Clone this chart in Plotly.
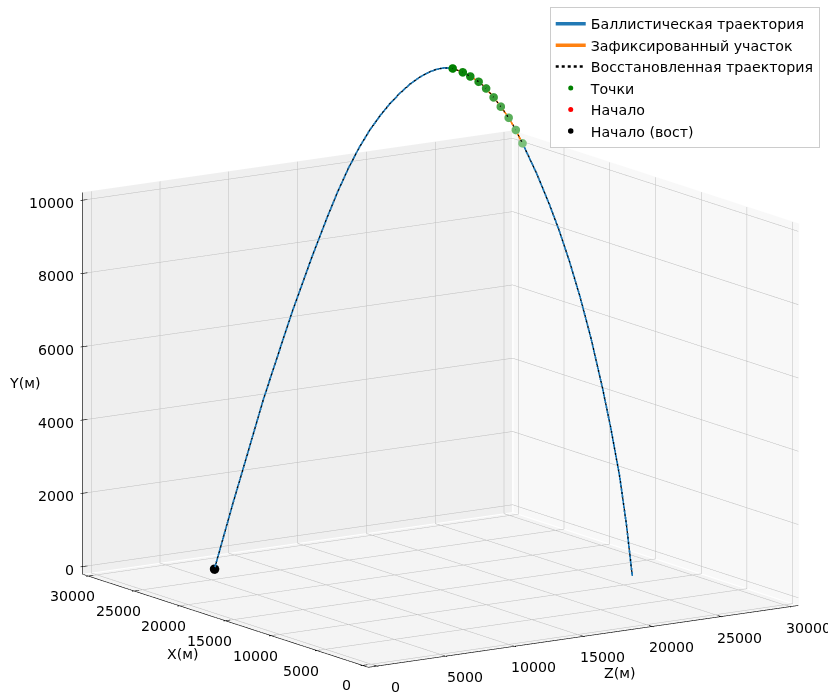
import math
import plotly.graph_objects as go

# ---------------- data (metres) ----------------
# ballistic trajectory: X (horizontal, left axis), Z (horizontal, right axis), Y (height)
traj_X = [25650, 24950, 24600, 23830, 23310, 22750, 22000, 21440, 21050, 20660,
          20250, 19850, 19470, 19100, 18720, 18350, 17980, 17600, 17340, 17070,
          16760, 16380, 16100, 15790, 15510, 15230, 14960, 14670, 14400, 14150,
          13620, 13140, 12760, 12390, 12000, 11590, 11160, 10850, 10530, 10270,
          10050]
traj_Z = [5650, 6550, 6990, 7990, 8650, 9370, 10330, 11050, 11550, 12050,
          12570, 13090, 13570, 14050, 14530, 15010, 15490, 15970, 16310, 16650,
          17050, 17530, 17890, 18290, 18650, 19010, 19350, 19730, 20070, 20390,
          21070, 21690, 22170, 22650, 23150, 23670, 24230, 24630, 25030, 25370,
          25650]
traj_Y = [0, 1830, 2690, 4640, 5800, 7050, 8580, 9650, 10350, 10980,
          11560, 12050, 12440, 12780, 13070, 13320, 13520, 13670, 13740, 13780,
          13770, 13670, 13560, 13420, 13240, 13000, 12750, 12450, 12120, 11760,
          10940, 10090, 9360, 8540, 7590, 6470, 5100, 4000, 2760, 1400,
          0]

# reconstructed trajectory (coincides with the ballistic one)
rec_X = list(traj_X)
rec_Z = list(traj_Z)
rec_Y = list(traj_Y)

# recorded segment / measured points
pts_X = [16760, 16380, 16100, 15790, 15510, 15230, 14960, 14670, 14400, 14150]
pts_Z = [17050, 17530, 17890, 18290, 18650, 19010, 19350, 19730, 20070, 20390]
pts_Y = [13770, 13670, 13560, 13420, 13240, 13000, 12750, 12450, 12120, 11760]
pts_col = ['#008000', '#0a850a', '#158a15', '#209020', '#2c962c',
           '#3a9d3a', '#4aa54a', '#5aae5a', '#6ab76a', '#7cc07c']

start_X, start_Z, start_Y = [25650], [5650], [0]
rstart_X, rstart_Z, rstart_Y = [25650], [5650], [0]

# axes
ticks_h = [0, 5000, 10000, 15000, 20000, 25000, 30000]
ticks_v = [0, 2000, 4000, 6000, 8000, 10000]
lim_h = [-625, 30625]
lim_v = [-208, 10208]

FONT = "DejaVu Sans"
FS = 14.2

fig = go.Figure()

lo, hi = lim_h
vlo, vhi = lim_v

# ---------- panes (scene x = Z, scene y = X, scene z = Y) ----------
def pane(xs, ys, zs, color):
    fig.add_trace(go.Mesh3d(x=xs, y=ys, z=zs, i=[0, 0], j=[1, 2], k=[2, 3],
                            color=color, opacity=1, flatshading=True,
                            lighting=dict(ambient=1, diffuse=0, specular=0, fresnel=0, roughness=1),
                            hoverinfo='skip', showlegend=False, showscale=False))

eps = 60
pane([lo, hi, hi, lo], [lo, lo, hi, hi], [vlo - 20] * 4, '#f4f4f4')          # floor
pane([lo, hi, hi, lo], [hi + eps] * 4, [vlo, vlo, vhi, vhi], '#efefef')      # X = max wall
pane([hi + eps] * 4, [lo, hi, hi, lo], [vlo, vlo, vhi, vhi], '#f8f8f8')      # Z = max wall

# ---------- grid lines ----------
gx, gy, gz = [], [], []
def seg(p, q):
    gx.extend([p[0], q[0], None]); gy.extend([p[1], q[1], None]); gz.extend([p[2], q[2], None])

for t in ticks_h:
    seg((t, lo, vlo), (t, hi, vlo))      # floor, constant Z
    seg((lo, t, vlo), (hi, t, vlo))      # floor, constant X
    seg((t, hi, vlo), (t, hi, vhi))      # X wall, vertical at Z ticks
    seg((hi, t, vlo), (hi, t, vhi))      # Z wall, vertical at X ticks
for v in ticks_v:
    seg((lo, hi, v), (hi, hi, v))
    seg((hi, lo, v), (hi, hi, v))
fig.add_trace(go.Scatter3d(x=gx, y=gy, z=gz, mode='lines',
                           line=dict(color='#bdbdbd', width=1),
                           hoverinfo='skip', showlegend=False))

# ---------- axis lines & ticks ----------
ax_x, ax_y, ax_z = [], [], []
def aseg(p, q):
    ax_x.extend([p[0], q[0], None]); ax_y.extend([p[1], q[1], None]); ax_z.extend([p[2], q[2], None])

aseg((lo, lo, vlo), (lo, hi, vlo))   # X axis
aseg((lo, lo, vlo), (hi, lo, vlo))   # Z axis
aseg((lo, hi, vlo), (lo, hi, vhi))   # Y axis
tl = 700
for t in ticks_h:
    aseg((lo - tl, t, vlo), (lo + tl / 2, t, vlo))
    aseg((t, lo - tl, vlo), (t, lo + tl / 2, vlo))
for v in ticks_v:
    aseg((lo - tl, hi, v), (lo + tl / 2, hi, v))
fig.add_trace(go.Scatter3d(x=ax_x, y=ax_y, z=ax_z, mode='lines',
                           line=dict(color='black', width=1.2),
                           hoverinfo='skip', showlegend=False))

# ---------- data traces ----------
# the two solid lines are drawn in the transparent pass so the dotted line stays on top
fig.add_trace(go.Scatter3d(x=traj_Z, y=traj_X, z=traj_Y, mode='lines',
                           name='Баллистическая траектория', opacity=0.99,
                           line=dict(color='#1f77b4', width=3.5)))
fig.add_trace(go.Scatter3d(x=pts_Z, y=pts_X, z=pts_Y, mode='lines',
                           name='Зафиксированный участок', opacity=0.99,
                           line=dict(color='#ff7f0e', width=3.5)))
fig.add_trace(go.Scatter3d(x=rec_Z, y=rec_X, z=rec_Y, mode='lines',
                           name='Восстановленная траектория',
                           line=dict(color='black', width=2.5, dash='dot')))
fig.add_trace(go.Scatter3d(x=pts_Z, y=pts_X, z=pts_Y, mode='markers',
                           name='Точки',
                           marker=dict(color=pts_col, size=5, line=dict(width=0))))
fig.add_trace(go.Scatter3d(x=start_Z, y=start_X, z=start_Y, mode='markers',
                           name='Начало', marker=dict(color='red', size=5)))
fig.add_trace(go.Scatter3d(x=rstart_Z, y=rstart_X, z=rstart_Y, mode='markers',
                           name='Начало (вост)', marker=dict(color='black', size=5.5)))

# ---------- tick labels (scene annotations) ----------
ann = []
af = dict(family=FONT, size=FS, color='black')
for t in ticks_h:
    ann.append(dict(x=lo, y=t, z=vlo, text=str(t), showarrow=False, font=af,
                    xanchor='center', yanchor='middle', xshift=-16, yshift=-20))
    ann.append(dict(x=t, y=lo, z=vlo, text=str(t), showarrow=False, font=af,
                    xanchor='center', yanchor='middle', xshift=19, yshift=-21))
for v in ticks_v:
    ann.append(dict(x=lo, y=hi, z=v, text=str(v), showarrow=False, font=af,
                    xanchor='right', yanchor='middle', xshift=-7, yshift=-3))
ann.append(dict(x=lo, y=15000, z=vlo, text='X(м)', showarrow=False, font=af,
                xanchor='center', yanchor='middle', xshift=-42, yshift=-33))
ann.append(dict(x=15000, y=lo, z=vlo, text='Z(м)', showarrow=False, font=af,
                xanchor='center', yanchor='middle', xshift=37, yshift=-37))
ann.append(dict(x=lo, y=hi, z=5000, text='Y(м)', showarrow=False, font=af,
                xanchor='center', yanchor='middle', xshift=-58, yshift=0))

zr = [-4500, 14500]
rng_h = [lo - 150, hi + 150]
k = 1.5
az = 0.75 * (zr[1] - zr[0]) / (vhi - vlo)

r = 3.0
phi = math.radians(12.5)
alpha = math.radians(33.6)
cen = dict(x=-0.0847, y=0.0102, z=0.1603)
eye = dict(x=cen['x'] - math.sin(alpha) * math.cos(phi) * r,
           y=cen['y'] - math.cos(alpha) * math.cos(phi) * r,
           z=cen['z'] + math.sin(phi) * r)

hidden = dict(visible=False, showspikes=False)
fig.update_layout(
    width=828, height=695,
    margin=dict(l=0, r=0, t=0, b=0),
    paper_bgcolor='white',
    font=dict(family=FONT, size=FS, color='black'),
    scene=dict(
        domain=dict(x=[0, 1], y=[0, 1]),
        xaxis=dict(range=rng_h, **hidden),
        yaxis=dict(range=rng_h, **hidden),
        zaxis=dict(range=zr, **hidden),
        aspectmode='manual',
        aspectratio=dict(x=k, y=k, z=k * az),
        camera=dict(eye=eye, center=cen, up=dict(x=0, y=0, z=1),
                    projection=dict(type='orthographic')),
        annotations=ann,
    ),
    legend=dict(x=0.99, y=0.99, xanchor='right', yanchor='top',
                bordercolor='#cccccc', borderwidth=1, bgcolor='rgba(255,255,255,0.8)',
                font=dict(family=FONT, size=FS)),
)

fig.write_html("out.html")
